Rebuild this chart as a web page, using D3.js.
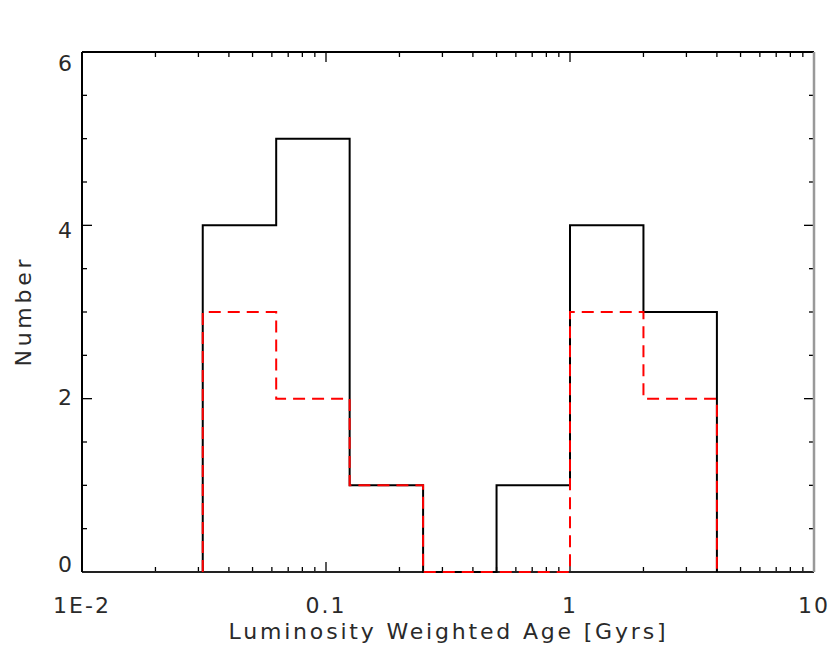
<!DOCTYPE html>
<html>
<head>
<meta charset="utf-8">
<script src="https://cdn.jsdelivr.net/npm/d3@7"></script>
<style>
  html, body { margin: 0; padding: 0; background: #fff; }
  svg { display: block; }
  text { font-family: "DejaVu Sans", "Liberation Sans", sans-serif; fill: #2a2a2a; }
</style>
</head>
<body>
<svg id="chart" width="833" height="654"></svg>
<script>
// Histogram bin edges (Gyr), doubling in age
const binEdges = [0.03125, 0.0625, 0.125, 0.25, 0.5, 1, 2, 4];
// Counts per bin: full sample (solid black) and subsample (dashed red)
const countsAll = [4, 5, 1, 0, 1, 4, 3];
const countsSub = [3, 2, 1, 0, 0, 3, 2];
// Axis ticks and labels
const xMajorTicks = [0.01, 0.1, 1, 10];
const xTickLabels = ["1E-2", "0.1", "1", "10"];
const yMajorTicks = [0, 2, 4, 6];
const yTickLabels = ["0", "2", "4", "6"];

const svg = d3.select("#chart");
const plotL = 82, plotR = 814, plotT = 52, plotB = 572;

const x = d3.scaleLog().domain([0.01, 10]).range([plotL, plotR]);
const y = d3.scaleLinear().domain([0, 6]).range([plotB, plotT]);
// label positions sit slightly inside the end ticks
const yLab = d3.scaleLinear().domain([0, 6]).range([564, 63]);

// minor ticks
const xMinor = [];
[0.01, 0.1, 1].forEach(d => { for (let k = 2; k <= 9; k++) xMinor.push(d * k); });
const yMinor = d3.range(0, 6.01, 0.5).filter(v => yMajorTicks.indexOf(v) < 0);

const tk = svg.append("g").attr("stroke", "#000").attr("stroke-width", 1.3);
xMajorTicks.forEach(v => {
  tk.append("line").attr("x1", x(v)).attr("x2", x(v)).attr("y1", plotB).attr("y2", plotB - 10);
  tk.append("line").attr("x1", x(v)).attr("x2", x(v)).attr("y1", plotT).attr("y2", plotT + 10);
});
xMinor.forEach(v => {
  tk.append("line").attr("x1", x(v)).attr("x2", x(v)).attr("y1", plotB).attr("y2", plotB - 5);
  tk.append("line").attr("x1", x(v)).attr("x2", x(v)).attr("y1", plotT).attr("y2", plotT + 5);
});
yMajorTicks.forEach(v => {
  tk.append("line").attr("x1", plotL).attr("x2", plotL + 10).attr("y1", y(v)).attr("y2", y(v));
  tk.append("line").attr("x1", plotR).attr("x2", plotR - 10).attr("y1", y(v)).attr("y2", y(v));
});
yMinor.forEach(v => {
  tk.append("line").attr("x1", plotL).attr("x2", plotL + 5).attr("y1", y(v)).attr("y2", y(v));
  tk.append("line").attr("x1", plotR).attr("x2", plotR - 5).attr("y1", y(v)).attr("y2", y(v));
});

// frame
const fr = svg.append("g").attr("fill", "none");
fr.append("line").attr("x1", plotL).attr("x2", plotR).attr("y1", plotT).attr("y2", plotT)
  .attr("stroke", "#000").attr("stroke-width", 2);
fr.append("line").attr("x1", plotL).attr("x2", plotR).attr("y1", plotB).attr("y2", plotB)
  .attr("stroke", "#222").attr("stroke-width", 2);
fr.append("line").attr("x1", plotL).attr("x2", plotL).attr("y1", plotT).attr("y2", plotB)
  .attr("stroke", "#000").attr("stroke-width", 2);
fr.append("line").attr("x1", plotR).attr("x2", plotR).attr("y1", plotT).attr("y2", plotB)
  .attr("stroke", "#999").attr("stroke-width", 2.5);

// step outline of a histogram
function stepPoints(counts) {
  const pts = [[binEdges[0], 0]];
  counts.forEach((c, i) => { pts.push([binEdges[i], c]); pts.push([binEdges[i + 1], c]); });
  pts.push([binEdges[binEdges.length - 1], 0]);
  return pts;
}
const line = d3.line().x(d => x(d[0])).y(d => y(d[1]));

svg.append("path").attr("d", line(stepPoints(countsAll)))
  .attr("fill", "none").attr("stroke", "#000").attr("stroke-width", 2)
  .attr("stroke-linejoin", "miter");
svg.append("path").attr("d", line(stepPoints(countsSub)))
  .attr("fill", "none").attr("stroke", "#ff0000").attr("stroke-width", 2)
  .attr("stroke-dasharray", "12,7");

// tick labels
xMajorTicks.forEach((v, i) => {
  svg.append("text").attr("x", x(v)).attr("y", 613).attr("text-anchor", "middle")
    .attr("font-size", 22).style("letter-spacing", "2px").text(xTickLabels[i]);
});
yMajorTicks.forEach((v, i) => {
  svg.append("text").attr("x", 72).attr("y", yLab(v)).attr("text-anchor", "end")
    .attr("dominant-baseline", "central").attr("font-size", 22).text(yTickLabels[i]);
});

// axis titles
svg.append("text").attr("x", 447).attr("y", 639).attr("text-anchor", "middle")
  .attr("font-size", 22).attr("textLength", 437).attr("lengthAdjust", "spacing")
  .text("Luminosity Weighted Age [Gyrs]");
svg.append("text").attr("transform", "translate(31,313) rotate(-90)")
  .attr("text-anchor", "middle").attr("font-size", 22)
  .attr("textLength", 107).attr("lengthAdjust", "spacing").text("Number");
</script>
</body>
</html>
